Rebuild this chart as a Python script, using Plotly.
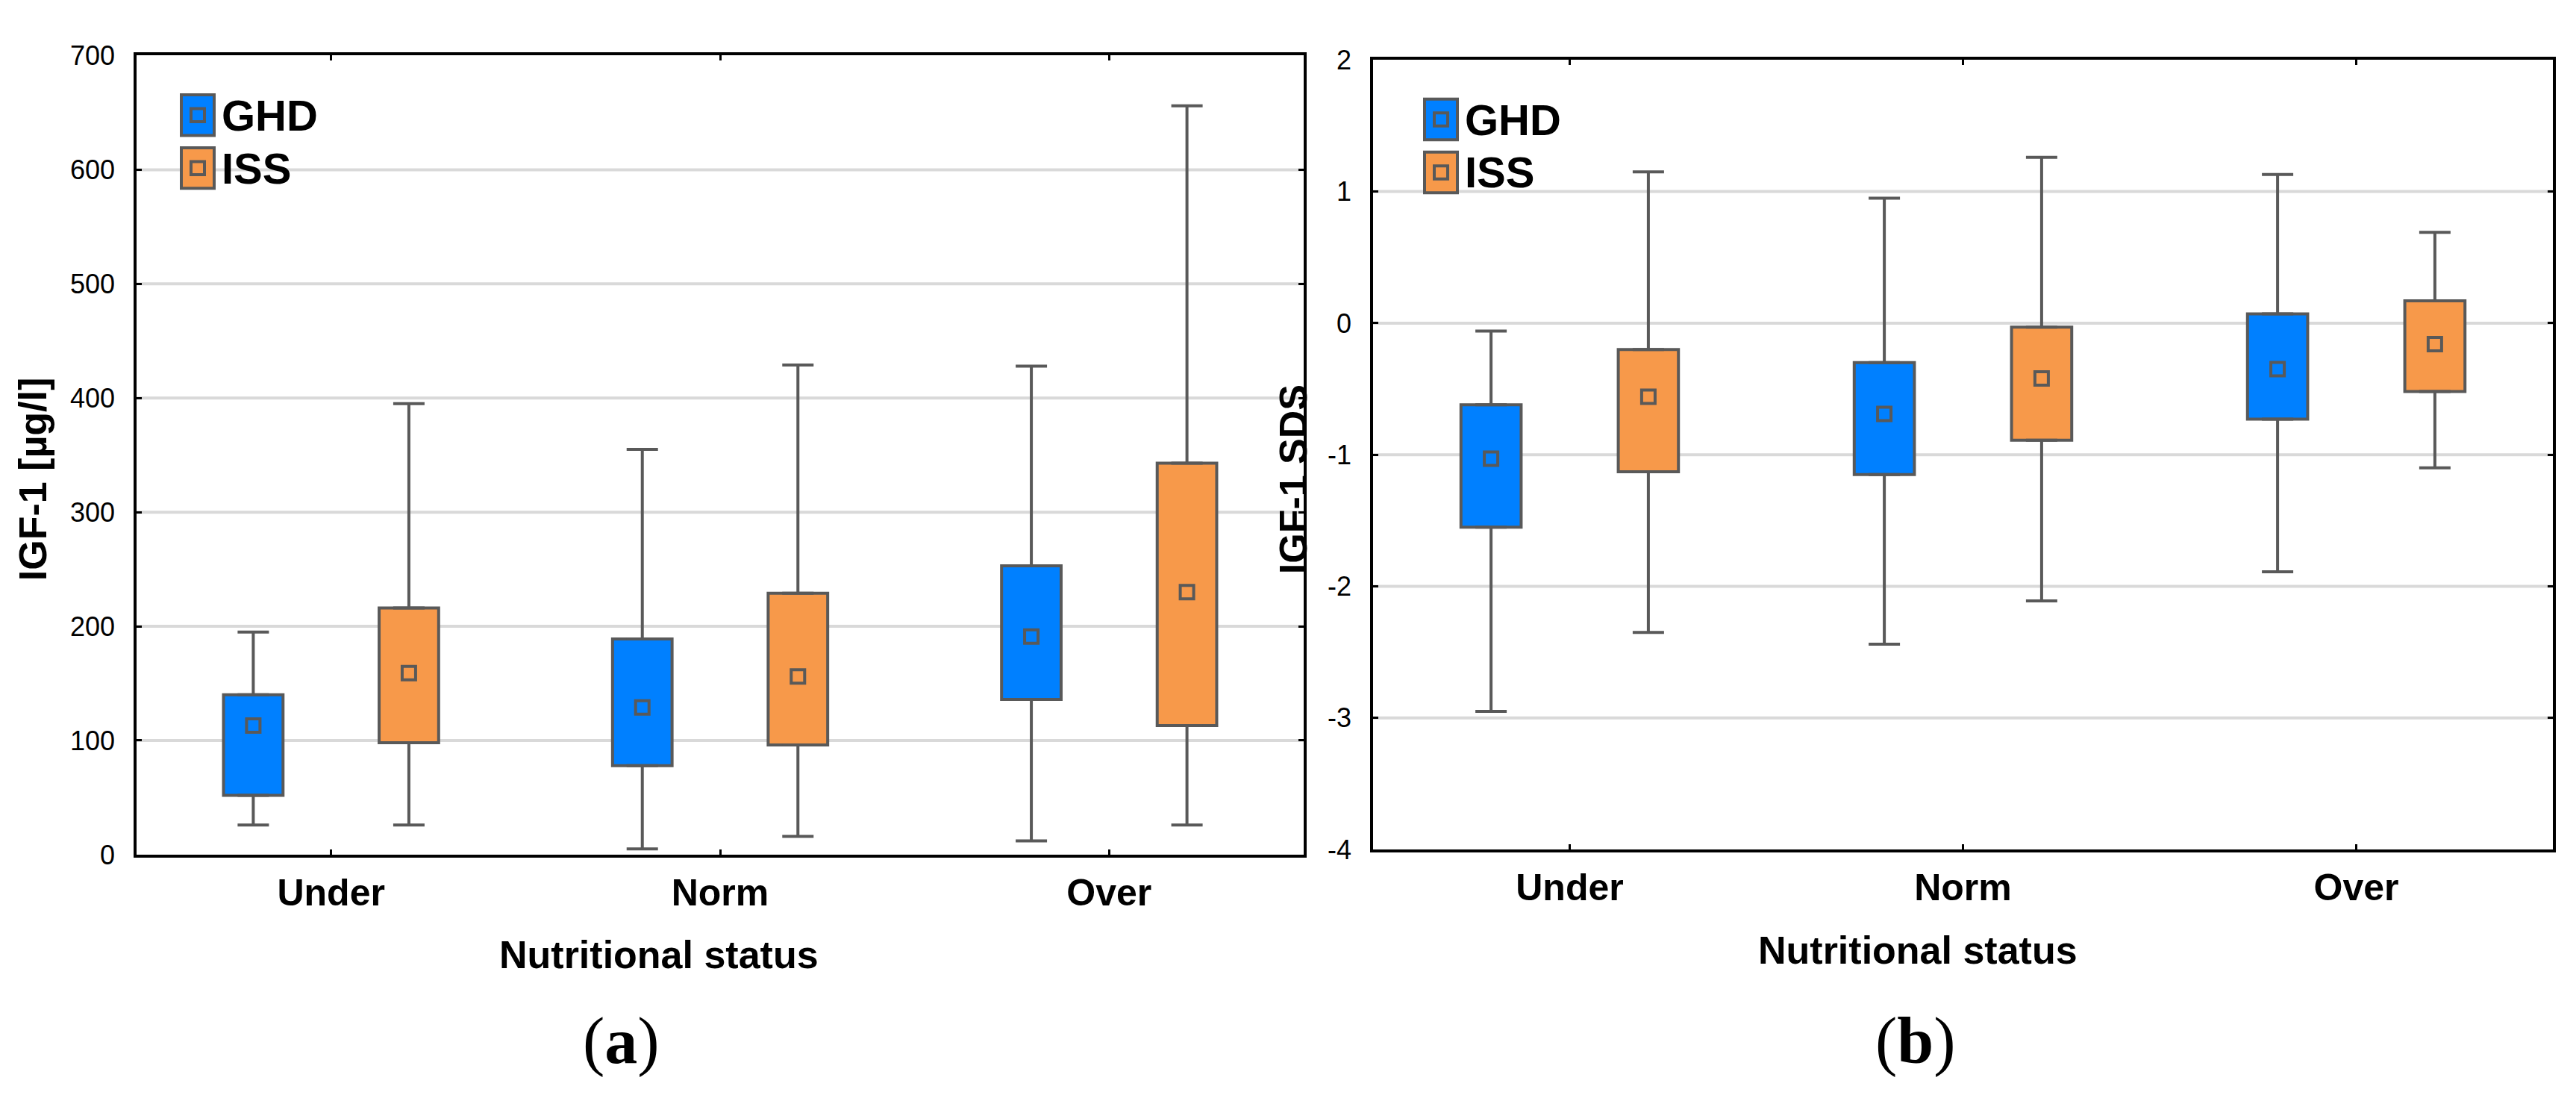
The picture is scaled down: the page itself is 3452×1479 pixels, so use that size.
import plotly.graph_objects as go

W, H = 3452, 1479

# ---------------- data ----------------
categories = ["Under", "Norm", "Over"]
groups = ["GHD", "ISS"]

# IGF-1 [µg/l]  (panel a)
igf_ghd_low = [26, 5, 12]
igf_ghd_q1 = [52, 78, 136]
igf_ghd_mean = [113, 129, 191]
igf_ghd_q3 = [140, 189, 253]
igf_ghd_high = [195, 355, 428]

igf_iss_low = [26, 16, 26]
igf_iss_q1 = [98, 96, 113]
igf_iss_mean = [159, 156, 230]
igf_iss_q3 = [216, 229, 343]
igf_iss_high = [395, 429, 656]

# IGF-1 SDS  (panel b)
sds_ghd_low = [-2.95, -2.44, -1.89]
sds_ghd_q1 = [-1.55, -1.15, -0.73]
sds_ghd_mean = [-1.03, -0.69, -0.35]
sds_ghd_q3 = [-0.62, -0.30, 0.07]
sds_ghd_high = [-0.06, 0.95, 1.13]

sds_iss_low = [-2.35, -2.11, -1.10]
sds_iss_q1 = [-1.13, -0.89, -0.52]
sds_iss_mean = [-0.56, -0.42, -0.16]
sds_iss_q3 = [-0.20, -0.03, 0.17]
sds_iss_high = [1.15, 1.26, 0.69]

igf_ticks = [0, 100, 200, 300, 400, 500, 600, 700]
igf_ticklabels = ["0", "100", "200", "300", "400", "500", "600", "700"]
sds_ticks = [-4, -3, -2, -1, 0, 1, 2]
sds_ticklabels = ["-4", "-3", "-2", "-1", "0", "1", "2"]

# ---------------- style ----------------
COLORS = {"GHD": "#0080FF", "ISS": "#F7994A"}
EDGE = "#595959"
OFFSET = {"GHD": -0.2, "ISS": 0.2}
BOXW = 0.153
SANS = "Liberation Sans, Arial, sans-serif"
SERIF = "Liberation Serif, Times New Roman, serif"


def px_x(p):
    return p / W


def px_y(p):
    return 1 - p / H


panels = [
    dict(
        xa="x", ya="y",
        stats={
            "GHD": (igf_ghd_low, igf_ghd_q1, igf_ghd_mean, igf_ghd_q3, igf_ghd_high),
            "ISS": (igf_iss_low, igf_iss_q1, igf_iss_mean, igf_iss_q3, igf_iss_high),
        },
    ),
    dict(
        xa="x2", ya="y2",
        stats={
            "GHD": (sds_ghd_low, sds_ghd_q1, sds_ghd_mean, sds_ghd_q3, sds_ghd_high),
            "ISS": (sds_iss_low, sds_iss_q1, sds_iss_mean, sds_iss_q3, sds_iss_high),
        },
    ),
]

fig = go.Figure()

for p in panels:
    for g in groups:
        low, q1, mean, q3, high = p["stats"][g]
        xs = [i + OFFSET[g] for i in range(len(categories))]
        # box body (q1 .. q3)
        fig.add_bar(
            x=xs, base=q1, y=[b - a for a, b in zip(q1, q3)], width=BOXW,
            marker=dict(color=COLORS[g], line=dict(color=EDGE, width=4)),
            xaxis=p["xa"], yaxis=p["ya"], showlegend=False, name=g,
        )
        # upper whisker
        fig.add_scatter(
            x=xs, y=q3, mode="markers",
            marker=dict(color="rgba(0,0,0,0)", size=1),
            error_y=dict(type="data", symmetric=False,
                         array=[h - t for t, h in zip(q3, high)],
                         arrayminus=[0] * len(q3),
                         width=21, thickness=4, color=EDGE),
            xaxis=p["xa"], yaxis=p["ya"], showlegend=False, name=g,
        )
        # lower whisker
        fig.add_scatter(
            x=xs, y=q1, mode="markers",
            marker=dict(color="rgba(0,0,0,0)", size=1),
            error_y=dict(type="data", symmetric=False,
                         array=[0] * len(q1),
                         arrayminus=[a - l for l, a in zip(low, q1)],
                         width=21, thickness=4, color=EDGE),
            xaxis=p["xa"], yaxis=p["ya"], showlegend=False, name=g,
        )
        # mean marker
        fig.add_scatter(
            x=xs, y=mean, mode="markers",
            marker=dict(symbol="square", size=18, color=COLORS[g],
                        line=dict(color=EDGE, width=4)),
            xaxis=p["xa"], yaxis=p["ya"], showlegend=False, name=g,
        )

xcommon = dict(
    range=[-0.5, 2.5], tickmode="array", tickvals=list(range(len(categories))),
    ticktext=categories, showline=True, linecolor="black", linewidth=3.5,
    mirror="ticks", ticks="inside", ticklen=7, tickwidth=3, tickcolor="black",
    showgrid=False, zeroline=False, ticklabelstandoff=4,
    tickfont=dict(family=SANS, size=50, color="black", weight="bold"),
    fixedrange=True,
)
ycommon = dict(
    showline=True, linecolor="black", linewidth=3.5, mirror="ticks",
    ticks="inside", ticklen=7, tickwidth=3, tickcolor="black",
    showgrid=False, zeroline=False, ticklabelstandoff=18,
    tickfont=dict(family=SANS, size=36, color="black"),
    fixedrange=True,
)

fig.update_layout(
    width=W, height=H, margin=dict(l=0, r=0, t=0, b=0),
    paper_bgcolor="white", plot_bgcolor="white", barmode="overlay",
    showlegend=False,
    xaxis=dict(domain=[px_x(183), px_x(1747)], anchor="y", **xcommon),
    yaxis=dict(domain=[px_y(1157), px_y(56)], anchor="x", range=[0, 700],
               tickmode="array", tickvals=igf_ticks, ticktext=igf_ticklabels, **ycommon),
    xaxis2=dict(domain=[px_x(1840), px_x(3421)], anchor="y2", **xcommon),
    yaxis2=dict(domain=[px_y(1150), px_y(62)], anchor="x2", range=[-4, 2],
                tickmode="array", tickvals=sds_ticks, ticktext=sds_ticklabels, **ycommon),
)

shapes = []
# horizontal grid lines at interior ticks
for ya, ticks in (("y", igf_ticks), ("y2", sds_ticks)):
    xref = "x domain" if ya == "y" else "x2 domain"
    for t in ticks[1:-1]:
        shapes.append(dict(type="line", xref=xref, yref=ya, x0=0, x1=1, y0=t, y1=t,
                           line=dict(color="#D9D9D9", width=4), layer="below"))

# custom legend (swatch with inner mean square + label)
annotations = []
legend_anchor = [(243, 110), (1909, 116)]  # top-left of first swatch (px)
SW_W, SW_H, STEP = 44, 56, 73
for (lx, ly) in legend_anchor:
    for k, g in enumerate(groups):
        y0 = ly + k * STEP
        shapes.append(dict(type="rect", xref="paper", yref="paper",
                           x0=px_x(lx), x1=px_x(lx + SW_W), y0=px_y(y0), y1=px_y(y0 + SW_H),
                           fillcolor=COLORS[g], line=dict(color=EDGE, width=4), layer="above"))
        cx, cy = lx + SW_W / 2, y0 + SW_H / 2
        shapes.append(dict(type="rect", xref="paper", yref="paper",
                           x0=px_x(cx - 9), x1=px_x(cx + 9), y0=px_y(cy - 9), y1=px_y(cy + 9),
                           fillcolor=COLORS[g], line=dict(color=EDGE, width=4), layer="above"))
        annotations.append(dict(text=g, xref="paper", yref="paper", x=px_x(lx + SW_W + 8),
                                y=px_y(cy), xanchor="left", yanchor="middle", showarrow=False,
                                font=dict(family=SANS, size=58, color="black", weight="bold")))

# axis titles and panel labels
annotations += [
    dict(text="IGF-1 [µg/l]", x=px_x(44), y=px_y(640), textangle=-90),
    dict(text="IGF-1 SDS", x=px_x(1733), y=px_y(640), textangle=-90),
    dict(text="Nutritional status", x=px_x(883), y=px_y(1295)),
    dict(text="Nutritional status", x=px_x(2570), y=px_y(1289)),
]
for a in annotations[-4:]:
    a.update(xref="paper", yref="paper", xanchor="center", yanchor="middle", showarrow=False,
             font=dict(family=SANS, size=52, color="black", weight="bold"))

annotations += [
    dict(text="(<b>a</b>)", x=px_x(832), y=px_y(1414)),
    dict(text="(<b>b</b>)", x=px_x(2567), y=px_y(1414)),
]
for a in annotations[-2:]:
    a.update(xref="paper", yref="paper", xanchor="center", yanchor="middle", showarrow=False,
             font=dict(family=SERIF, size=88, color="black"))

fig.update_layout(shapes=shapes, annotations=annotations)

fig.write_html("out.html", config={"displayModeBar": False},
               post_script="document.body.style.margin='0';")
